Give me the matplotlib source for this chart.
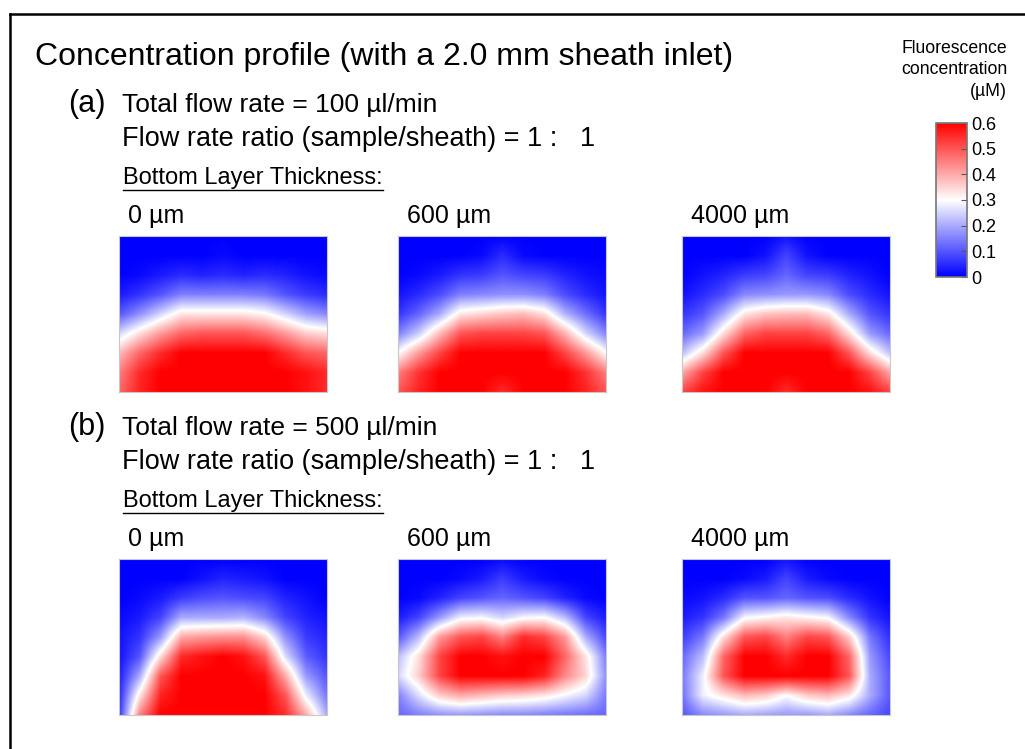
import numpy as np
import matplotlib
matplotlib.use("Agg")
import matplotlib.pyplot as plt
from matplotlib.lines import Line2D

plt.rcParams['font.family'] = ['Liberation Sans', 'DejaVu Sans']

# grid nodes of each panel (x across, depth down), values in uM
x_nodes = np.linspace(0, 1, 11)
y_nodes = np.linspace(0, 1, 9)

thickness_labels = ["0 µm", "600 µm", "4000 µm"]
flow_rates = [100, 500]
ratio_text = "Flow rate ratio (sample/sheath) = 1 :   1"
cbar_ticks = [0, 0.1, 0.2, 0.3, 0.4, 0.5, 0.6]
cbar_labels = ["0", "0.1", "0.2", "0.3", "0.4", "0.5", "0.6"]

# (a) 100 ul/min
a_0um = [
    [0, 0, 0, 0, 0, 0, 0, 0, 0, 0, 0],
    [0, 0, 0, 0, 0, 0.01, 0, 0, 0, 0, 0],
    [0, 0.01, 0.03, 0.05, 0.04, 0.05, 0.04, 0.05, 0.04, 0.02, 0.01],
    [0.03, 0.06, 0.1, 0.15, 0.15, 0.15, 0.15, 0.14, 0.1, 0.07, 0.05],
    [0.1, 0.17, 0.25, 0.33, 0.33, 0.33, 0.33, 0.31, 0.25, 0.19, 0.16],
    [0.25, 0.34, 0.42, 0.48, 0.5, 0.5, 0.5, 0.47, 0.42, 0.36, 0.34],
    [0.38, 0.48, 0.55, 0.6, 0.6, 0.6, 0.6, 0.6, 0.55, 0.5, 0.48],
    [0.45, 0.55, 0.6, 0.6, 0.6, 0.6, 0.6, 0.6, 0.6, 0.58, 0.55],
    [0.48, 0.56, 0.6, 0.6, 0.6, 0.6, 0.6, 0.6, 0.6, 0.58, 0.55],
]
a_600um = [
    [0, 0, 0, 0, 0, 0, 0, 0, 0, 0, 0],
    [0, 0, 0, 0, 0.01, 0.05, 0.01, 0, 0, 0, 0],
    [0, 0.01, 0.03, 0.06, 0.07, 0.1, 0.08, 0.07, 0.04, 0.02, 0.01],
    [0.02, 0.05, 0.09, 0.15, 0.16, 0.17, 0.17, 0.15, 0.09, 0.05, 0.02],
    [0.06, 0.12, 0.2, 0.33, 0.35, 0.37, 0.38, 0.34, 0.21, 0.13, 0.06],
    [0.15, 0.24, 0.38, 0.5, 0.52, 0.52, 0.52, 0.5, 0.39, 0.25, 0.15],
    [0.3, 0.42, 0.52, 0.6, 0.6, 0.6, 0.6, 0.6, 0.52, 0.42, 0.3],
    [0.45, 0.54, 0.6, 0.6, 0.6, 0.6, 0.6, 0.6, 0.6, 0.54, 0.45],
    [0.5, 0.56, 0.6, 0.6, 0.6, 0.55, 0.6, 0.6, 0.6, 0.56, 0.5],
]
a_4000um = [
    [0, 0, 0, 0, 0, 0.02, 0, 0, 0, 0, 0],
    [0, 0, 0, 0, 0.02, 0.08, 0.02, 0, 0, 0, 0],
    [0, 0.02, 0.04, 0.07, 0.08, 0.12, 0.08, 0.07, 0.04, 0.02, 0],
    [0.02, 0.05, 0.09, 0.16, 0.17, 0.18, 0.18, 0.16, 0.09, 0.05, 0.02],
    [0.06, 0.1, 0.2, 0.33, 0.37, 0.38, 0.38, 0.33, 0.2, 0.1, 0.06],
    [0.12, 0.18, 0.34, 0.48, 0.52, 0.52, 0.52, 0.48, 0.34, 0.18, 0.12],
    [0.22, 0.34, 0.5, 0.6, 0.6, 0.6, 0.6, 0.6, 0.5, 0.34, 0.22],
    [0.4, 0.52, 0.6, 0.6, 0.6, 0.6, 0.6, 0.6, 0.6, 0.52, 0.4],
    [0.52, 0.58, 0.6, 0.6, 0.6, 0.55, 0.6, 0.6, 0.6, 0.58, 0.52],
]

# (b) 500 ul/min
b_0um = [
    [0, 0, 0, 0, 0, 0, 0, 0, 0, 0, 0],
    [0, 0, 0, 0, 0.02, 0.04, 0.03, 0.02, 0, 0, 0],
    [0, 0.01, 0.03, 0.07, 0.09, 0.1, 0.09, 0.08, 0.04, 0.02, 0],
    [0.01, 0.03, 0.08, 0.2, 0.2, 0.2, 0.21, 0.16, 0.08, 0.04, 0.02],
    [0.02, 0.06, 0.18, 0.4, 0.42, 0.43, 0.43, 0.35, 0.17, 0.07, 0.04],
    [0.02, 0.1, 0.34, 0.55, 0.58, 0.6, 0.58, 0.5, 0.26, 0.11, 0.06],
    [0.03, 0.2, 0.5, 0.6, 0.6, 0.6, 0.6, 0.58, 0.4, 0.18, 0.1],
    [0.04, 0.33, 0.56, 0.6, 0.6, 0.6, 0.6, 0.6, 0.5, 0.28, 0.14],
    [0.05, 0.45, 0.6, 0.6, 0.6, 0.6, 0.6, 0.6, 0.55, 0.4, 0.2],
]
b_600um = [
    [0, 0, 0, 0, 0, 0.01, 0, 0, 0, 0, 0],
    [0, 0, 0, 0.01, 0.03, 0.07, 0.03, 0.01, 0, 0, 0],
    [0, 0.01, 0.04, 0.08, 0.1, 0.12, 0.1, 0.08, 0.04, 0.01, 0],
    [0.03, 0.08, 0.18, 0.28, 0.29, 0.25, 0.29, 0.3, 0.22, 0.08, 0.03],
    [0.1, 0.22, 0.42, 0.5, 0.52, 0.45, 0.55, 0.52, 0.42, 0.2, 0.08],
    [0.22, 0.34, 0.52, 0.6, 0.6, 0.58, 0.6, 0.6, 0.48, 0.33, 0.14],
    [0.25, 0.36, 0.52, 0.6, 0.6, 0.6, 0.6, 0.56, 0.44, 0.35, 0.16],
    [0.15, 0.26, 0.36, 0.4, 0.38, 0.36, 0.35, 0.33, 0.29, 0.25, 0.14],
    [0.12, 0.15, 0.17, 0.18, 0.17, 0.16, 0.16, 0.15, 0.14, 0.13, 0.12],
]
b_4000um = [
    [0, 0, 0, 0, 0, 0.02, 0, 0, 0, 0, 0],
    [0, 0, 0, 0.01, 0.03, 0.08, 0.03, 0.01, 0, 0, 0],
    [0.01, 0.02, 0.05, 0.1, 0.1, 0.12, 0.1, 0.09, 0.05, 0.02, 0],
    [0.03, 0.06, 0.14, 0.29, 0.31, 0.33, 0.31, 0.29, 0.16, 0.06, 0.02],
    [0.07, 0.14, 0.34, 0.5, 0.52, 0.45, 0.52, 0.5, 0.36, 0.14, 0.05],
    [0.12, 0.22, 0.48, 0.6, 0.6, 0.55, 0.6, 0.6, 0.48, 0.18, 0.08],
    [0.14, 0.28, 0.5, 0.6, 0.6, 0.6, 0.6, 0.6, 0.5, 0.2, 0.1],
    [0.13, 0.28, 0.33, 0.38, 0.36, 0.3, 0.36, 0.38, 0.33, 0.2, 0.1],
    [0.1, 0.16, 0.18, 0.2, 0.19, 0.18, 0.18, 0.2, 0.16, 0.12, 0.08],
]

panels = [[a_0um, a_600um, a_4000um], [b_0um, b_600um, b_4000um]]

W, H = 1025, 749
fig = plt.figure(figsize=(W / 100, H / 100), dpi=100)


def fx(px):
    return px / W


def fy(py):
    return 1 - py / H


def add_box(left, top, width, height):
    return fig.add_axes([fx(left), fy(top + height), width / W, height / H])


# frame (left and top edges only)
fig.add_artist(Line2D([fx(10), fx(10)], [fy(14), 0], color='black', lw=1.8))
fig.add_artist(Line2D([fx(10), 1], [fy(14), fy(14)], color='black', lw=1.8))

fig.text(fx(35), fy(57), "Concentration profile (with a 2.0 mm sheath inlet)",
         fontsize=23, va='center', ha='left')

# half a node spacing around the grid so node values sit on the panel edges
dx = (x_nodes[1] - x_nodes[0]) / 2
dyn = (y_nodes[1] - y_nodes[0]) / 2
extent = (x_nodes[0] - dx, x_nodes[-1] + dx, y_nodes[-1] + dyn, y_nodes[0] - dyn)

panel_lefts = [119, 398, 682]
block_tops = [0, 323]   # vertical offset of block (b) against block (a)
img = None
underlines = []
for i, (letter, rate) in enumerate(zip(["(a)", "(b)"], flow_rates)):
    dy = block_tops[i]
    fig.text(fx(68), fy(104 + dy), letter, fontsize=22, va='center', ha='left')
    fig.text(fx(122), fy(105 + dy), f"Total flow rate = {rate} µl/min",
             fontsize=19, va='center', ha='left')
    fig.text(fx(122), fy(139 + dy), ratio_text, fontsize=19.5, va='center', ha='left')
    t = fig.text(fx(123), fy(178 + dy), "Bottom Layer Thickness:",
                 fontsize=17, va='center', ha='left')
    underlines.append(t)
    for j, left in enumerate(panel_lefts):
        fig.text(fx(left + 9), fy(216 + dy), thickness_labels[j],
                 fontsize=18, va='center', ha='left')
        ax = add_box(left, 236 + dy, 208, 156)
        img = ax.imshow(np.array(panels[i][j]), cmap='bwr', vmin=0, vmax=0.6,
                        interpolation='bilinear', interpolation_stage='data',
                        extent=extent, aspect='auto')
        ax.set_xlim(0, 1)
        ax.set_ylim(1, 0)
        ax.set_xticks([])
        ax.set_yticks([])
        for s in ax.spines.values():
            s.set_color('#c8c8c8')
            s.set_linewidth(0.8)

# colour bar
cax = add_box(936, 123, 31, 154)
cb = fig.colorbar(img, cax=cax, ticks=cbar_ticks)
cb.ax.set_yticklabels(cbar_labels)
cb.ax.tick_params(direction='in', length=4, width=0.8, color='#555555',
                  labelsize=13, pad=3)
cb.outline.set_edgecolor('#777777')
cb.outline.set_linewidth(1.2)
fig.text(fx(1007), fy(70), "Fluorescence\nconcentration\n(µM)", fontsize=12.7,
         ha='right', va='center', multialignment='right', linespacing=1.35)

# underline the "Bottom Layer Thickness:" captions
fig.canvas.draw()
renderer = fig.canvas.get_renderer()
for t in underlines:
    bb = t.get_window_extent(renderer)
    y = (bb.y0 - 1) / H
    fig.add_artist(Line2D([bb.x0 / W, bb.x1 / W], [y, y], color='black', lw=1.0))

fig.savefig("out.png", dpi=100)
